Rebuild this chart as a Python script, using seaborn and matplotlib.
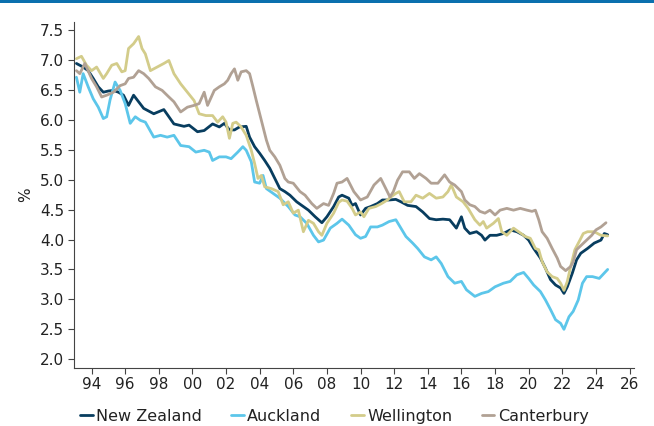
import pandas as pd
import matplotlib
matplotlib.use('Agg')
import matplotlib.pyplot as plt
import matplotlib.patches as patches
from matplotlib.ticker import FuncFormatter, MultipleLocator
import seaborn as sns

# --- values (fractional years, %) ---
nz_year = [1993.1, 1993.5, 1993.8, 1994.1, 1994.4, 1994.7, 1995.0, 1995.3, 1995.6, 1995.9,
           1996.2, 1996.5, 1996.8, 1997.1, 1997.7, 1998.3, 1998.6, 1998.9, 1999.5, 1999.8,
           2000.3, 2000.7, 2001.2, 2001.6, 2001.9, 2002.2, 2002.5, 2002.8, 2003.2, 2003.4,
           2003.7, 2004.0, 2004.3, 2004.6, 2004.9, 2005.2, 2005.5, 2005.8, 2006.2, 2006.5,
           2006.9, 2007.3, 2007.7, 2008.0, 2008.4, 2008.7, 2008.9, 2009.3, 2009.5, 2009.7,
           2010.0, 2010.3, 2010.6, 2011.0, 2011.3, 2011.7, 2012.1, 2012.4, 2012.8, 2013.3,
           2013.7, 2014.1, 2014.5, 2014.9, 2015.3, 2015.7, 2016.0, 2016.2, 2016.5, 2016.9,
           2017.2, 2017.4, 2017.7, 2018.1, 2018.5, 2018.9, 2019.3, 2019.7, 2020.0, 2020.3,
           2020.7, 2021.0, 2021.3, 2021.6, 2021.9, 2022.1, 2022.3, 2022.6, 2022.85, 2023.1,
           2023.5, 2023.9, 2024.3, 2024.5, 2024.7]
nz_val = [6.94, 6.88, 6.82, 6.69, 6.55, 6.46, 6.48, 6.49, 6.46, 6.41,
          6.24, 6.41, 6.30, 6.19, 6.10, 6.17, 6.05, 5.93, 5.89, 5.91,
          5.80, 5.82, 5.93, 5.88, 5.94, 5.83, 5.83, 5.88, 5.89, 5.71,
          5.55, 5.44, 5.32, 5.19, 5.02, 4.85, 4.80, 4.74, 4.63, 4.57,
          4.49, 4.38, 4.28, 4.38, 4.55, 4.71, 4.74, 4.69, 4.57, 4.60,
          4.41, 4.52, 4.55, 4.60, 4.66, 4.66, 4.67, 4.63, 4.57, 4.55,
          4.46, 4.35, 4.33, 4.34, 4.33, 4.19, 4.38, 4.19, 4.10, 4.13,
          4.07, 3.99, 4.07, 4.07, 4.10, 4.16, 4.13, 4.07, 3.99, 3.85,
          3.69, 3.52, 3.33, 3.24, 3.19, 3.10, 3.21, 3.44, 3.66, 3.77,
          3.85, 3.94, 3.99, 4.10, 4.08]

akl_year = [1993.1, 1993.3, 1993.5, 1993.8, 1994.1, 1994.4, 1994.7, 1994.9, 1995.1, 1995.4,
            1995.7, 1996.0, 1996.3, 1996.6, 1996.9, 1997.2, 1997.7, 1998.1, 1998.5, 1998.9,
            1999.3, 1999.8, 2000.2, 2000.7, 2001.0, 2001.2, 2001.6, 2002.0, 2002.3, 2002.7,
            2003.0, 2003.2, 2003.5, 2003.7, 2004.0, 2004.2, 2004.4, 2004.8, 2005.2, 2005.7,
            2006.1, 2006.4, 2006.8, 2007.2, 2007.5, 2007.8, 2008.2, 2008.6, 2008.9, 2009.3,
            2009.7, 2010.0, 2010.3, 2010.6, 2011.0, 2011.3, 2011.7, 2012.1, 2012.4, 2012.7,
            2013.1, 2013.4, 2013.8, 2014.2, 2014.5, 2014.8, 2015.2, 2015.6, 2016.0, 2016.3,
            2016.8, 2017.2, 2017.6, 2018.0, 2018.5, 2018.9, 2019.3, 2019.7, 2020.0, 2020.3,
            2020.7, 2021.0, 2021.3, 2021.6, 2021.9, 2022.1, 2022.4, 2022.65, 2022.95, 2023.2,
            2023.45, 2023.8, 2024.2, 2024.5, 2024.7]
akl_val = [6.71, 6.46, 6.77, 6.55, 6.35, 6.21, 6.02, 6.05, 6.33, 6.63,
           6.49, 6.27, 5.94, 6.05, 5.99, 5.96, 5.71, 5.74, 5.71, 5.74,
           5.57, 5.55, 5.46, 5.49, 5.46, 5.32, 5.38, 5.38, 5.35, 5.46,
           5.55, 5.49, 5.30, 4.96, 4.94, 5.07, 4.85, 4.77, 4.69, 4.55,
           4.41, 4.38, 4.27, 4.07, 3.96, 3.99, 4.19, 4.27, 4.34, 4.24,
           4.08, 4.02, 4.05, 4.21, 4.21, 4.24, 4.30, 4.33, 4.19, 4.05,
           3.94, 3.85, 3.71, 3.66, 3.71, 3.60, 3.38, 3.27, 3.30, 3.16,
           3.05, 3.10, 3.13, 3.21, 3.27, 3.30, 3.41, 3.45, 3.35, 3.24,
           3.13, 2.99, 2.83, 2.66, 2.60, 2.50, 2.71, 2.80, 2.99, 3.27,
           3.38, 3.38, 3.35, 3.44, 3.50]

wgn_year = [1993.1, 1993.4, 1993.7, 1994.0, 1994.3, 1994.7, 1994.9, 1995.2, 1995.5, 1995.8,
            1996.0, 1996.2, 1996.5, 1996.8, 1997.0, 1997.2, 1997.5, 1997.9, 1998.3, 1998.6,
            1998.9, 1999.3, 1999.7, 2000.1, 2000.4, 2000.8, 2001.2, 2001.5, 2001.8, 2002.0,
            2002.2, 2002.4, 2002.6, 2002.9, 2003.2, 2003.5, 2003.7, 2003.9, 2004.1, 2004.3,
            2004.7, 2005.1, 2005.4, 2005.7, 2006.0, 2006.3, 2006.6, 2006.9, 2007.2, 2007.5,
            2007.7, 2008.0, 2008.4, 2008.7, 2008.9, 2009.2, 2009.5, 2009.7, 2010.0, 2010.2,
            2010.5, 2010.9, 2011.25, 2011.6, 2011.8, 2012.1, 2012.3, 2012.6, 2013.0, 2013.3,
            2013.7, 2014.1, 2014.5, 2014.9, 2015.2, 2015.4, 2015.7, 2016.1, 2016.4, 2016.8,
            2017.1, 2017.3, 2017.5, 2017.9, 2018.2, 2018.4, 2018.7, 2019.1, 2019.4, 2019.8,
            2020.1, 2020.4, 2020.6, 2020.8, 2021.1, 2021.4, 2021.7, 2021.9, 2022.1, 2022.3,
            2022.5, 2022.75, 2023.05, 2023.25, 2023.5, 2023.9, 2024.3, 2024.7]
wgn_val = [7.02, 7.06, 6.91, 6.82, 6.88, 6.69, 6.77, 6.91, 6.94, 6.80,
           6.82, 7.19, 7.27, 7.39, 7.19, 7.10, 6.82, 6.88, 6.94, 6.99,
           6.77, 6.60, 6.46, 6.32, 6.10, 6.07, 6.07, 5.96, 6.05, 5.96,
           5.69, 5.94, 5.96, 5.88, 5.74, 5.49, 5.27, 5.02, 5.07, 4.88,
           4.85, 4.80, 4.58, 4.63, 4.44, 4.49, 4.13, 4.32, 4.27, 4.13,
           4.07, 4.27, 4.44, 4.62, 4.66, 4.64, 4.52, 4.41, 4.46, 4.38,
           4.52, 4.55, 4.60, 4.66, 4.71, 4.77, 4.80, 4.63, 4.63, 4.74,
           4.69, 4.77, 4.69, 4.71, 4.80, 4.91, 4.71, 4.63, 4.52, 4.33,
           4.24, 4.30, 4.19, 4.27, 4.35, 4.13, 4.07, 4.19, 4.13, 4.05,
           4.02, 3.85, 3.83, 3.63, 3.46, 3.38, 3.35, 3.27, 3.15, 3.30,
           3.55, 3.83, 3.99, 4.10, 4.13, 4.13, 4.07, 4.06]

can_year = [1993.1, 1993.3, 1993.6, 1994.0, 1994.3, 1994.6, 1994.9, 1995.3, 1995.7, 1996.0,
            1996.2, 1996.5, 1996.8, 1997.1, 1997.4, 1997.8, 1998.2, 1998.6, 1998.9, 1999.3,
            1999.7, 2000.1, 2000.4, 2000.7, 2000.9, 2001.3, 2001.6, 2001.9, 2002.1, 2002.3,
            2002.5, 2002.7, 2002.9, 2003.2, 2003.4, 2003.6, 2003.8, 2004.0, 2004.2, 2004.4,
            2004.6, 2004.9, 2005.2, 2005.5, 2005.7, 2006.0, 2006.4, 2006.7, 2007.1, 2007.4,
            2007.8, 2008.1, 2008.4, 2008.6, 2008.9, 2009.2, 2009.6, 2010.0, 2010.4, 2010.8,
            2011.2, 2011.45, 2011.75, 2011.95, 2012.2, 2012.5, 2012.9, 2013.2, 2013.5, 2013.9,
            2014.2, 2014.6, 2015.0, 2015.3, 2015.6, 2016.0, 2016.2, 2016.5, 2016.8, 2017.1,
            2017.4, 2017.7, 2018.0, 2018.3, 2018.7, 2019.1, 2019.5, 2019.9, 2020.2, 2020.4,
            2020.6, 2020.8, 2021.1, 2021.4, 2021.7, 2021.9, 2022.2, 2022.5, 2022.65, 2022.85,
            2023.15, 2023.45, 2023.75, 2024.0, 2024.3, 2024.6]
can_val = [6.82, 6.77, 6.94, 6.69, 6.55, 6.38, 6.41, 6.46, 6.57, 6.60,
           6.69, 6.71, 6.82, 6.77, 6.69, 6.55, 6.49, 6.38, 6.30, 6.13,
           6.21, 6.24, 6.27, 6.46, 6.24, 6.49, 6.55, 6.60, 6.66, 6.77,
           6.85, 6.66, 6.80, 6.82, 6.77, 6.55, 6.32, 6.10, 5.88, 5.66,
           5.49, 5.38, 5.24, 5.02, 4.96, 4.94, 4.80, 4.74, 4.60, 4.52,
           4.60, 4.57, 4.77, 4.94, 4.96, 5.02, 4.80, 4.66, 4.71, 4.91,
           5.02, 4.88, 4.71, 4.80, 4.99, 5.13, 5.13, 5.02, 5.10, 5.02,
           4.94, 4.94, 5.08, 4.96, 4.91, 4.80, 4.66, 4.58, 4.55, 4.47,
           4.44, 4.49, 4.41, 4.49, 4.52, 4.49, 4.52, 4.49, 4.47, 4.49,
           4.33, 4.13, 4.02, 3.85, 3.69, 3.55, 3.48, 3.55, 3.63, 3.83,
           3.91, 3.99, 4.07, 4.16, 4.21, 4.28]

regions = ['New Zealand', 'Auckland', 'Wellington', 'Canterbury']
colours = {'New Zealand': '#083d5f', 'Auckland': '#5cc6ea',
           'Wellington': '#d3cc8a', 'Canterbury': '#b1a194'}

df = pd.concat([
    pd.DataFrame({'year': nz_year, 'value': nz_val, 'region': 'New Zealand'}),
    pd.DataFrame({'year': akl_year, 'value': akl_val, 'region': 'Auckland'}),
    pd.DataFrame({'year': wgn_year, 'value': wgn_val, 'region': 'Wellington'}),
    pd.DataFrame({'year': can_year, 'value': can_val, 'region': 'Canterbury'}),
], ignore_index=True)

sns.set_style('ticks')
plt.rcParams['font.family'] = ['DejaVu Sans']
plt.rcParams['text.color'] = '#222222'

fig = plt.figure(figsize=(6.54, 4.26), dpi=100)
ax = fig.add_axes([0.113, 0.137, 0.856, 0.811])

sns.lineplot(data=df, x='year', y='value', hue='region', hue_order=regions,
             palette=colours, estimator=None, linewidth=2.0, ax=ax)

ax.set_xlim(1992.95, 2026.25)
ax.set_ylim(1.86, 7.63)
ax.xaxis.set_major_locator(MultipleLocator(2))
ax.xaxis.set_major_formatter(FuncFormatter(lambda v, p: f'{int(round(v)) % 100:02d}'))
ax.yaxis.set_major_locator(MultipleLocator(0.5))
ax.yaxis.set_major_formatter(FuncFormatter(lambda v, p: f'{v:.1f}'))
ax.tick_params(axis='both', labelsize=11, colors='#444444', labelcolor='#222222',
               length=4, width=0.8, pad=3)
ax.set_xlabel('')
ax.set_ylabel('%', fontsize=11, color='#222222', labelpad=5)
for side in ['left', 'bottom']:
    ax.spines[side].set_color('#444444')
    ax.spines[side].set_linewidth(0.8)
sns.despine(ax=ax)

ax.legend(loc='upper center', bbox_to_anchor=(0.465, -0.1), ncol=4, frameon=False,
          fontsize=11.5, handlelength=0.8, handletextpad=0.2, columnspacing=1.85,
          borderaxespad=0)

# thin blue rule across the top of the figure
fig.add_artist(patches.Rectangle((0, 1 - 3 / 426), 1, 3 / 426, transform=fig.transFigure,
                                 color='#0a70ae', lw=0))

fig.savefig('out.png', dpi=100)
